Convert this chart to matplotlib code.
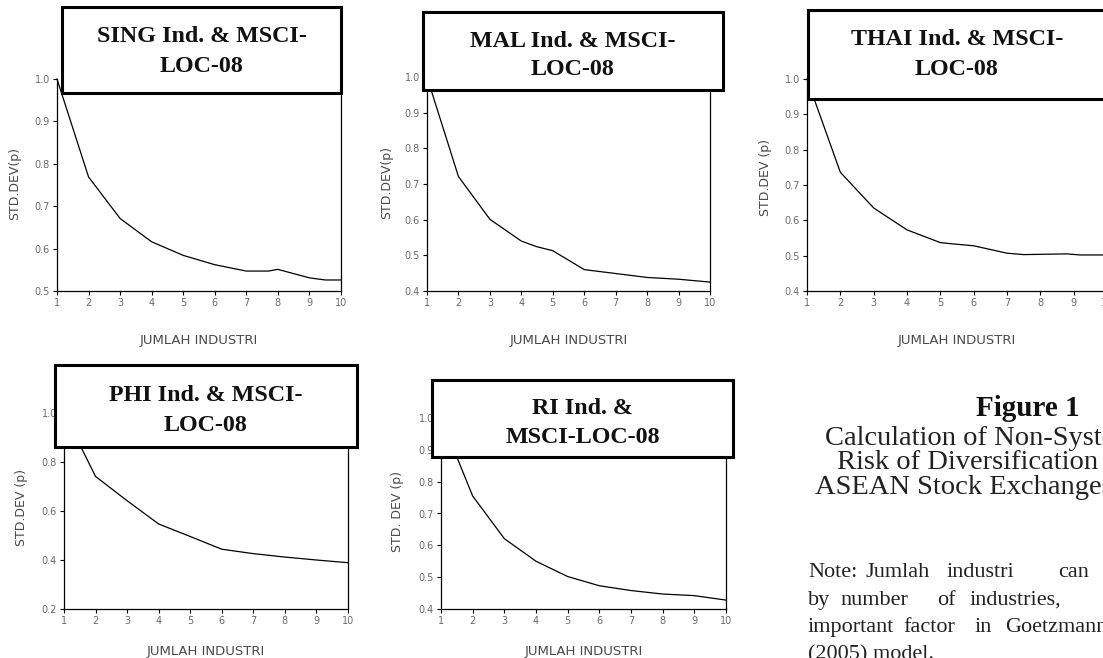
import matplotlib
matplotlib.use("Agg")
import matplotlib.pyplot as plt
from matplotlib.patches import Rectangle

W, H, DPI = 1103, 658, 100

# ---------------- data ----------------
x_sing = [1, 2, 3, 4, 5, 6, 7, 7.7, 8, 9, 9.5, 10]
y_sing = [1.0, 0.769, 0.671, 0.616, 0.584, 0.562, 0.547, 0.547, 0.551, 0.531, 0.526, 0.526]

x_mal = [1, 2, 3, 4, 4.5, 5, 6, 7, 8, 9, 10]
y_mal = [1.0, 0.721, 0.601, 0.540, 0.524, 0.513, 0.460, 0.449, 0.438, 0.433, 0.425]

x_thai = [1, 2, 3, 4, 5, 5.3, 6, 7, 7.5, 8.8, 9.2, 10]
y_thai = [1.0, 0.736, 0.635, 0.573, 0.537, 0.534, 0.528, 0.507, 0.503, 0.505, 0.502, 0.502]

x_phi = [1, 2, 3, 4, 5, 6, 7, 8, 9, 10]
y_phi = [1.0, 0.741, 0.642, 0.547, 0.496, 0.444, 0.426, 0.412, 0.400, 0.389]

x_ri = [1, 2, 3, 4, 5, 6, 7, 8, 9, 10]
y_ri = [1.0, 0.755, 0.621, 0.550, 0.502, 0.473, 0.458, 0.447, 0.442, 0.428]

titles = [("SING Ind. & MSCI-", "LOC-08"),
          ("MAL Ind. & MSCI-", "LOC-08"),
          ("THAI Ind. & MSCI-", "LOC-08"),
          ("PHI Ind. & MSCI-", "LOC-08"),
          ("RI Ind. &", "MSCI-LOC-08")]
ylabels = ["STD.DEV(p)", "STD.DEV(p)", "STD.DEV (p)", "STD.DEV (p)", "STD. DEV (p)"]
xlabel = "JUMLAH INDUSTRI"
xticks = [1, 2, 3, 4, 5, 6, 7, 8, 9, 10]
yticks_sing = [0.5, 0.6, 0.7, 0.8, 0.9, 1.0]
yticks_04 = [0.4, 0.5, 0.6, 0.7, 0.8, 0.9, 1.0]
yticks_phi = [0.2, 0.4, 0.6, 0.8, 1.0]

caption_head = "Figure 1"
caption_lines = ["Calculation of Non-Systematic",
                 "Risk of Diversification in",
                 "ASEAN Stock Exchanges"]
note_lines = [["Note:", "Jumlah", "industri", "can"],
              ["by", "number", "of", "industries,"],
              ["important", "factor", "in", "Goetzmann"],
              ["(2005) model."]]

# ---------------- layout (pixels) ----------------
panels = [
    dict(x=x_sing, y=y_sing, yt=yticks_sing, x1=57, x10=341, ylo=0.5, ylo_px=291, y1_px=79,
         box=(62, 7, 341, 93), tb=(42, 72), yl=(15, 184), xl=341),
    dict(x=x_mal, y=y_mal, yt=yticks_04, x1=427, x10=710, ylo=0.4, ylo_px=291, y1_px=77,
         box=(423, 12, 723, 90), tb=(47, 75), yl=(387, 182), xl=341),
    dict(x=x_thai, y=y_thai, yt=yticks_04, x1=807, x10=1107, ylo=0.4, ylo_px=291, y1_px=79,
         box=(808, 10, 1112, 99), tb=(45, 75), yl=(765, 177), xl=341),
    dict(x=x_phi, y=y_phi, yt=yticks_phi, x1=64, x10=348, ylo=0.2, ylo_px=609, y1_px=413,
         box=(55, 365, 357, 447), tb=(401, 431), yl=(22, 507), xl=652),
    dict(x=x_ri, y=y_ri, yt=yticks_04, x1=441, x10=726, ylo=0.4, ylo_px=609, y1_px=418,
         box=(432, 380, 733, 457), tb=(414, 443), yl=(398, 512), xl=652),
]

fig = plt.figure(figsize=(W / DPI, H / DPI), dpi=DPI)
fig.patch.set_facecolor("white")

def fx(px):
    return px / W

def fy(py):
    return 1 - py / H

tick_col = "#6a6a6a"
lab_col = "#4a4a4a"
serif = "Liberation Serif"
sans = "DejaVu Sans"

for p, (t1, t2), ylab in zip(panels, titles, ylabels):
    ax = fig.add_axes([fx(p["x1"]), fy(p["ylo_px"]), (p["x10"] - p["x1"]) / W,
                       (p["ylo_px"] - p["y1_px"]) / H])
    ax.plot(p["x"], p["y"], color="black", lw=0.9, solid_joinstyle="miter", clip_on=False)
    ax.set_xlim(1, 10)
    ax.set_ylim(p["ylo"], 1.0)
    ax.set_xticks(xticks)
    ax.set_xticklabels([str(v) for v in xticks])
    ax.set_yticks(p["yt"])
    ax.set_yticklabels([f"{v:.1f}" for v in p["yt"]])
    ax.spines["top"].set_visible(False)
    for s in ("left", "bottom", "right"):
        ax.spines[s].set_linewidth(0.9)
        ax.spines[s].set_color("black")
    ax.tick_params(direction="out", length=3, width=0.8, colors="black",
                   labelcolor=tick_col, labelsize=7, pad=2)
    for lab in ax.get_xticklabels() + ax.get_yticklabels():
        lab.set_fontfamily(sans)

    # title box
    l, t, r, b = p["box"]
    rect = Rectangle((fx(l), fy(b)), (r - l) / W, (b - t) / H, transform=fig.transFigure,
                     facecolor="white", edgecolor="black", lw=2.2, zorder=5)
    fig.add_artist(rect)
    cx = (l + r) / 2 if r < W else (p["x1"] + p["x10"]) / 2
    fig.text(fx(cx), fy(p["tb"][0]), t1, ha="center", va="baseline", family=serif,
             weight="bold", fontsize=17.3, color="#111111", zorder=6)
    fig.text(fx(cx), fy(p["tb"][1]), t2, ha="center", va="baseline", family=serif,
             weight="bold", fontsize=17.3, color="#111111", zorder=6)

    # axis labels
    fig.text(fx(p["yl"][0]), fy(p["yl"][1]), ylab, rotation=90, ha="center", va="center",
             family=sans, fontsize=9, color=lab_col)
    fig.text(fx((p["x1"] + p["x10"]) / 2), fy(p["xl"]), xlabel, ha="center", va="center",
             family=sans, fontsize=9.5, color=lab_col)

# caption
fig.text(fx(1028), fy(416), caption_head, ha="center", va="baseline", family=serif,
         weight="bold", fontsize=21, color="#111111")
cap_x = [825, 837, 815]
cap_y = [445, 469, 494]
for s, xx, yy in zip(caption_lines, cap_x, cap_y):
    fig.text(fx(xx), fy(yy), s, ha="left", va="baseline", family=serif,
             fontsize=20.5, color="#222222")

note_x = [[808, 866, 947, 1058], [808, 840, 937, 970], [808, 903, 975, 1005], [808]]
note_y = [577, 605, 632, 659]
for words, xs, yy in zip(note_lines, note_x, note_y):
    for w_, xx in zip(words, xs):
        fig.text(fx(xx), fy(yy), w_, ha="left", va="baseline", family=serif,
                 fontsize=16, color="#222222")

fig.savefig("out.png", dpi=DPI, facecolor="white")
